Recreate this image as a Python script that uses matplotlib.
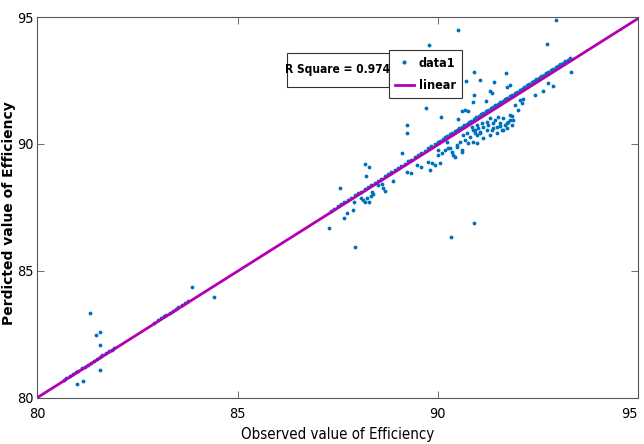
import matplotlib
matplotlib.use("Agg")
import matplotlib.pyplot as plt
from matplotlib import font_manager
from matplotlib.lines import Line2D
from matplotlib.patches import Rectangle

# points lying on/near the fitted line
band_obs = [80.65, 80.72, 80.80, 80.88, 80.95, 81.02, 81.10, 81.18, 81.25,
            81.33, 81.40, 81.48, 81.55, 81.62, 81.70, 81.78, 81.85, 81.92,
            82.90, 83.00, 83.08, 83.15, 83.22, 83.30, 83.38, 83.45, 83.52,
            83.60, 83.68, 83.75,
            87.32, 87.41, 87.50, 87.58, 87.66, 87.75, 87.83, 87.92, 88.00,
            88.08, 88.17, 88.25, 88.33, 88.42, 88.50, 88.58, 88.67, 88.75,
            88.83, 88.92, 89.00, 89.08, 89.17, 89.25, 89.33, 89.42, 89.50,
            89.58, 89.67, 89.75, 89.83, 89.92, 90.00, 90.06, 90.12, 90.18,
            90.24, 90.30, 90.36, 90.42, 90.48, 90.54, 90.60, 90.66, 90.72,
            90.78, 90.84, 90.90, 90.96, 91.02, 91.08, 91.14, 91.20, 91.26,
            91.32, 91.38, 91.44, 91.50, 91.56, 91.62, 91.68, 91.74, 91.80,
            91.86, 91.92, 91.98, 92.04, 92.10, 92.16, 92.22, 92.28, 92.34,
            92.40, 92.46, 92.52, 92.58, 92.64, 92.70, 92.76, 92.82, 92.88,
            92.94, 93.00, 93.06, 93.12, 93.18, 93.24, 93.30]
band_pred = [80.70, 80.78, 80.86, 80.93, 81.00, 81.06, 81.15, 81.22, 81.30,
             81.36, 81.45, 81.52, 81.60, 81.66, 81.75, 81.82, 81.88, 81.96,
             82.95, 83.04, 83.12, 83.20, 83.27, 83.34, 83.42, 83.50, 83.56,
             83.64, 83.72, 83.80,
             87.37, 87.45, 87.55, 87.62, 87.71, 87.80, 87.87, 87.97, 88.05,
             88.12, 88.22, 88.30, 88.37, 88.47, 88.55, 88.62, 88.72, 88.80,
             88.88, 88.97, 89.05, 89.13, 89.22, 89.31, 89.38, 89.48, 89.56,
             89.64, 89.73, 89.82, 89.90, 89.99, 90.07, 90.13, 90.20, 90.26,
             90.31, 90.38, 90.44, 90.50, 90.56, 90.62, 90.68, 90.74, 90.80,
             90.86, 90.92, 90.98, 91.04, 91.10, 91.16, 91.22, 91.28, 91.34,
             91.40, 91.46, 91.52, 91.58, 91.64, 91.70, 91.76, 91.82, 91.88,
             91.94, 92.00, 92.06, 92.12, 92.18, 92.24, 92.30, 92.36, 92.42,
             92.48, 92.54, 92.60, 92.66, 92.72, 92.78, 92.84, 92.90, 92.96,
             93.02, 93.08, 93.14, 93.20, 93.26, 93.32, 93.38]

# scattered points
scat_obs = [81.31, 81.46, 81.56, 81.56, 81.56, 80.99, 81.14, 83.86, 84.41,
            92.95, 90.50, 89.78, 92.73, 90.90, 91.70, 90.70, 91.05, 91.40,
            91.30, 91.35, 91.73, 91.80, 90.90, 91.20, 90.88, 90.68, 90.60,
            90.75, 90.50, 90.08, 89.71, 92.05, 92.13, 91.93, 92.00, 91.85,
            92.43, 92.63, 92.75, 92.88, 93.33,
            89.23, 89.23, 89.11, 88.18, 88.28, 88.21, 87.56, 88.88, 88.68,
            88.51, 88.61, 88.63, 88.36, 88.38, 88.33, 88.08, 88.13, 88.18,
            88.23, 88.28, 87.91, 87.88, 87.73, 87.66, 87.28, 87.93, 90.33,
            90.90,
            89.23, 89.33, 89.48, 89.58, 89.76, 89.86, 89.93, 89.81, 90.06,
            90.01, 90.10, 90.01, 90.25, 90.35, 90.43, 90.23, 90.48, 90.55,
            90.60, 90.63, 90.73, 90.80, 90.93, 90.98, 90.93,
            90.85, 90.88, 90.98, 91.00, 91.05, 91.10, 91.13, 91.23, 91.25,
            91.30, 91.35, 91.38, 91.43, 91.48, 91.50, 91.55, 91.60, 91.63,
            91.68, 91.73, 91.75, 91.80, 91.85, 91.88, 92.10,
            90.18, 90.30, 90.38, 90.48, 90.60, 90.68, 90.75, 90.88, 90.98,
            91.05, 91.13, 91.23, 91.30, 91.38, 91.48, 91.55, 91.63, 91.73,
            91.80]
scat_pred = [83.33, 82.46, 82.59, 82.07, 81.08, 80.53, 80.65, 84.36, 83.96,
             94.88, 94.49, 93.89, 93.93, 92.83, 92.79, 92.48, 92.51, 92.44,
             92.08, 92.00, 92.24, 92.32, 91.92, 91.69, 91.65, 91.33, 91.29,
             91.29, 90.98, 91.06, 91.41, 91.73, 91.77, 91.53, 91.33, 91.10,
             91.92, 92.08, 92.40, 92.28, 92.83,
             90.74, 90.42, 89.64, 89.20, 89.09, 88.73, 88.26, 88.53, 88.14,
             88.38, 88.42, 88.26, 88.10, 88.02, 87.94, 87.86, 87.78, 87.71,
             87.86, 87.71, 87.71, 87.39, 87.27, 87.08, 86.68, 85.93, 86.33,
             86.88,
             88.89, 88.85, 89.16, 89.09, 89.28, 89.24, 89.16, 88.97, 89.24,
             89.56, 89.64, 89.76, 89.83, 89.68, 89.48, 90.07, 89.87, 90.07,
             89.76, 90.35, 90.43, 90.27, 90.43, 90.03, 90.54,
             90.66, 90.54, 90.74, 90.62, 90.47, 90.82, 90.66, 90.86, 90.74,
             91.02, 90.54, 90.82, 90.94, 90.66, 91.06, 90.82, 90.54, 91.02,
             90.74, 90.62, 90.86, 91.14, 90.74, 90.94, 91.61,
             89.76, 89.83, 89.56, 89.95, 89.68, 90.15, 90.03, 90.07, 90.35,
             90.43, 90.23, 90.54, 90.35, 90.62, 90.43, 90.72, 90.54, 90.82,
             90.94]

observed = band_obs + scat_obs
predicted = band_pred + scat_pred

fit_slope = 0.996
fit_intercept = 0.32
r_square = 0.974

x_limits = [80, 95]
ticks = [80, 85, 90, 95]

# narrow font if there is one, else plain Arial-like with a smaller size
installed = font_manager.fontManager.ttflist
if any(f.name == "Liberation Sans Narrow" for f in installed):
    narrow = dict(family=["Liberation Sans Narrow", "DejaVu Sans"])
    shrink = 1.0
elif any(f.name == "DejaVu Sans" and f.stretch == "condensed" for f in installed):
    narrow = dict(family=["DejaVu Sans"], stretch="condensed")
    shrink = 0.9
else:
    narrow = dict(family=["Liberation Sans", "DejaVu Sans"])
    shrink = 0.85

fig = plt.figure(figsize=(6.44, 4.44), dpi=100)
ax = fig.add_axes((0.0582, 0.1047, 0.9325, 0.8570))

ax.plot(observed, predicted, ".", color="#0072BD", ms=3.5, label="data1")
fit_y = [fit_slope * v + fit_intercept for v in x_limits]
ax.plot(x_limits, fit_y, color="#b400b4", lw=2, label="linear")

ax.set_xlim(x_limits)
ax.set_ylim(x_limits)
ax.set_xticks(ticks)
ax.set_yticks(ticks)
ax.tick_params(direction="in", length=5, width=0.6, color="#555555",
               top=True, right=True)
ax.tick_params(axis="x", pad=7)
ax.tick_params(axis="y", pad=3)
for lab in ax.get_xticklabels() + ax.get_yticklabels():
    lab.set_fontproperties(font_manager.FontProperties(size=11.5 * shrink,
                                                       **narrow))
ax.get_xticklabels()[-1].set_ha("right")
for side in ax.spines.values():
    side.set_color("#555555")
    side.set_linewidth(0.8)

ax.set_xlabel("Observed value of Efficiency", fontsize=12 * shrink,
              **narrow)
ax.xaxis.set_label_coords(0.5, -0.077)
ax.set_ylabel("Perdicted value of Efficiency", fontsize=10,
              fontweight="bold", family=["DejaVu Sans"])
ax.yaxis.set_label_coords(-0.036, 0.484)

handles = [
    Line2D([], [], marker=".", ls="none", color="#0072BD", ms=4),
    Line2D([], [], color="#b400b4", lw=2),
]
leg = ax.legend(handles, ["data1", "linear"], loc="upper left",
                bbox_to_anchor=(0.585, 0.912), borderaxespad=0,
                fancybox=False, framealpha=1, edgecolor="#333333",
                handlelength=1.5, handletextpad=0.4, borderpad=0.5,
                labelspacing=0.75,
                prop=font_manager.FontProperties(weight="bold",
                                                 size=10 * shrink, **narrow))
leg.get_frame().set_linewidth(0.8)

ax.add_patch(Rectangle((0.415, 0.817), 0.170, 0.0894,
                       transform=ax.transAxes, facecolor="white",
                       edgecolor="#333333", lw=0.8, zorder=5))
ax.text(0.500, 0.861, f"R Square = {r_square}", transform=ax.transAxes,
        ha="center", va="center", fontsize=8.6, fontweight="bold",
        zorder=6, **narrow)

fig.savefig("out.png", dpi=100)
